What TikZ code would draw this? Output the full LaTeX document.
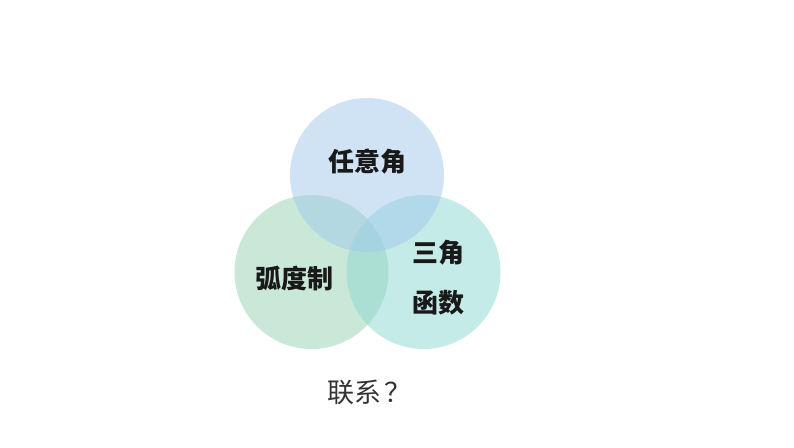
\documentclass[tikz,border=0pt]{standalone}
\usepackage{fontspec}
\setmainfont{Noto Sans CJK SC}
\newfontfamily\cjk{Noto Sans CJK SC}
\usetikzlibrary{positioning}

\definecolor{skyblue}{RGB}{160,200,235}
\definecolor{mintgreen}{RGB}{150,210,175}
\definecolor{aquagreen}{RGB}{140,215,210}

\begin{document}
\begin{tikzpicture}[x=1pt, y=1pt, node distance=20pt,
			ring/.style={circle, minimum size=154pt, inner sep=0pt, fill opacity=0.5},
			word/.style={font=\cjk\bfseries\fontsize{26}{30}\selectfont, text=black!90}]
			\useasboundingbox (0,0) rectangle (794,447);
			\node[ring, fill=mintgreen]  (L) at (311.5,175) {};
			\node[ring, fill=aquagreen]  (R) at (423.5,175) {};
			\node[ring, fill=skyblue]    (T) at (367,272)   {};
			
			%Textos:
			\node[word] (t) at ([yshift=13pt]T.center)      {任意角};
			\node[word] (l) at ([xshift=-17pt,yshift=-6pt]L.center) {弧度制};
			\node[word] (r1) at ([xshift=15pt,yshift=19pt]R.center) {三角};
			\node[word] (r2) at ([yshift=-50pt]r1.center)   {函数};
			\node[font=\cjk\fontsize{27}{32}\selectfont, text=black!80] (q)
				at (369,55)                                  {联系\kern3pt？};
		\end{tikzpicture}
\end{document}
